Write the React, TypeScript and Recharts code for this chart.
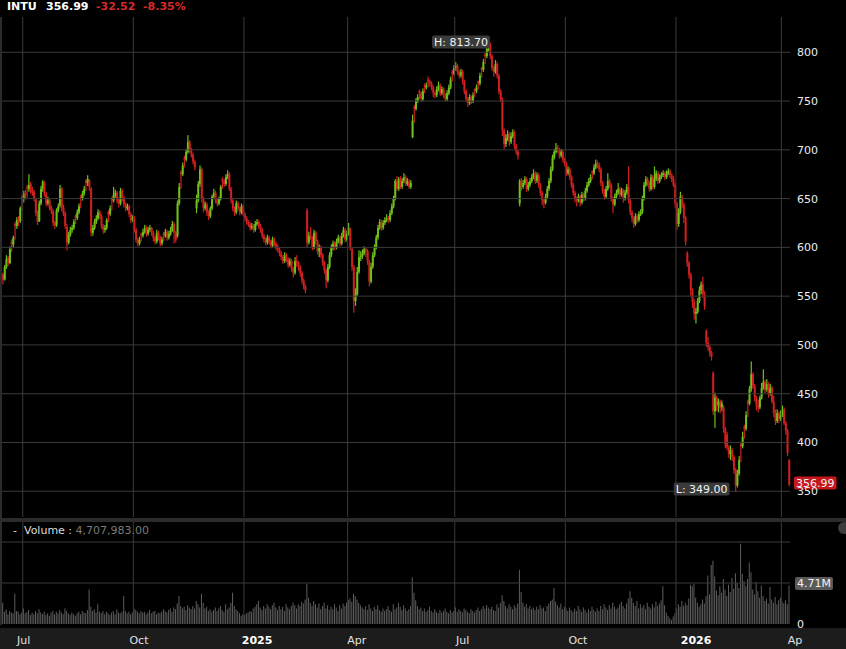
import React from 'react'
import { ComposedChart, Bar, XAxis, YAxis, ReferenceLine, ReferenceDot } from 'recharts'

// daily candles [open, high, low, close]
const p2024a = [
  [572, 574, 562, 567], [567, 582, 566, 580], [580, 592, 578, 588], [589, 591, 581, 584], [584, 601, 583, 598],
  [606, 608, 595, 603], [603, 612, 600, 610], [624, 626, 608, 622], [622, 631, 619, 628], [629, 632, 622, 626],
  [627, 642, 625, 640], [652, 654, 638, 650], [650, 658, 646, 655], [656, 659, 649, 653], [662, 664, 651, 660],
  [660, 675, 657, 664], [665, 667, 655, 658], [659, 662, 653, 656], [657, 659, 647, 650], [649, 651, 632, 635],
  [636, 638, 623, 626], [627, 648, 626, 645], [645, 663, 643, 660], [660, 669, 657, 667], [666, 668, 652, 655],
  [655, 657, 642, 645], [645, 652, 643, 648], [648, 650, 638, 640], [641, 643, 634, 637], [637, 639, 622, 625],
  [625, 627, 619, 622], [623, 640, 621, 638], [638, 645, 636, 642], [643, 664, 641, 660], [660, 662, 637, 640],
  [641, 644, 632, 635], [635, 637, 619, 622], [621, 624, 597, 605], [605, 616, 603, 613], [613, 621, 611, 618],
  [618, 623, 615, 620], [620, 629, 618, 626], [632, 634, 624, 630], [630, 639, 628, 636], [636, 645, 634, 642],
  [652, 654, 640, 650], [650, 658, 648, 655], [655, 663, 653, 660], [668, 670, 658, 666], [666, 674, 663, 670],
  [668, 670, 658, 662], [660, 662, 611, 615], [615, 623, 612, 620], [620, 629, 618, 626], [626, 633, 624, 630],
  [630, 639, 628, 636], [636, 638, 629, 632], [632, 634, 619, 622], [622, 624, 614, 618], [618, 623, 615, 620],
  [620, 630, 618, 628], [636, 638, 626, 634], [634, 643, 632, 640], [650, 652, 638, 648], [648, 662, 646, 654],
  [654, 659, 651, 656], [656, 658, 645, 648], [648, 651, 641, 645], [645, 661, 643, 658], [658, 660, 647, 650],
  [650, 653, 641, 644], [644, 646, 637, 640], [640, 645, 638, 642], [642, 644, 631, 634], [634, 636, 625, 628],
  [628, 633, 626, 630],
]
const p2024b = [
  [630, 632, 615, 618], [618, 620, 605, 608], [608, 610, 601, 604], [604, 611, 602, 608], [614, 615, 606, 612],
  [612, 619, 610, 616], [616, 623, 614, 620], [620, 622, 611, 614], [614, 621, 612, 618], [618, 623, 616, 620],
  [620, 621, 612, 615], [615, 617, 606, 610], [610, 612, 603, 606], [606, 618, 604, 615], [615, 617, 607, 610],
  [610, 612, 601, 604], [604, 611, 602, 608], [614, 616, 606, 612], [612, 619, 610, 616], [616, 618, 607, 610],
  [610, 617, 608, 614], [614, 621, 612, 618], [618, 627, 616, 624], [624, 626, 604, 615], [615, 617, 605, 608],
  [612, 648, 610, 645], [645, 666, 643, 662], [677, 679, 660, 675], [675, 687, 673, 684], [692, 694, 682, 690],
  [690, 701, 688, 698], [698, 715, 696, 708], [708, 710, 697, 700], [700, 702, 692, 695], [695, 697, 685, 688],
  [688, 690, 679, 682], [640, 654, 635, 648], [648, 668, 646, 665], [665, 684, 662, 680], [680, 682, 646, 650],
  [650, 652, 636, 640], [640, 647, 638, 644], [644, 646, 632, 636], [636, 638, 628, 632], [632, 642, 630, 640],
  [640, 654, 638, 652], [652, 660, 650, 656], [656, 658, 645, 648], [648, 650, 642, 645], [645, 652, 643, 650],
  [650, 664, 648, 662], [670, 672, 660, 668], [668, 670, 662, 665], [665, 675, 663, 672], [672, 679, 670, 675],
  [675, 677, 658, 660], [660, 662, 645, 648], [648, 650, 637, 640], [640, 642, 632, 636], [636, 648, 634, 645],
  [645, 647, 638, 640], [640, 642, 633, 636], [636, 645, 634, 642], [642, 644, 632, 634],
]
const p2025a = [
  [634, 636, 627, 630], [630, 632, 623, 626], [626, 628, 621, 624], [624, 626, 617, 620], [620, 625, 618, 622],
  [622, 624, 615, 618], [618, 627, 616, 624], [624, 629, 622, 626], [626, 628, 619, 622], [622, 624, 615, 618],
  [618, 620, 609, 612], [612, 614, 605, 608], [608, 610, 602, 605], [605, 613, 603, 610], [610, 612, 603, 606],
  [606, 608, 599, 602], [602, 611, 600, 608], [608, 610, 601, 604], [604, 606, 597, 600], [600, 603, 595, 598],
  [598, 600, 591, 594], [594, 596, 587, 590], [590, 592, 583, 586], [586, 595, 584, 592], [592, 594, 585, 588],
  [588, 590, 579, 582], [582, 589, 580, 586], [586, 588, 575, 578], [578, 580, 569, 574], [574, 590, 572, 586],
  [586, 592, 580, 584], [584, 586, 576, 580], [580, 582, 570, 574], [574, 576, 563, 566], [566, 568, 557, 560],
  [560, 562, 553, 556], [638, 640, 600, 605], [605, 616, 603, 612], [612, 621, 608, 610], [610, 612, 597, 600],
  [600, 618, 598, 615], [615, 617, 603, 606], [606, 608, 593, 596], [596, 603, 590, 600], [600, 602, 589, 592],
  [592, 594, 581, 584], [584, 586, 573, 576], [576, 578, 558, 566], [566, 583, 564, 580], [580, 595, 578, 592],
  [592, 603, 590, 600], [600, 607, 597, 604], [604, 606, 597, 600], [600, 609, 598, 606], [606, 613, 604, 610],
  [610, 612, 601, 604], [604, 615, 602, 612], [612, 621, 610, 618], [618, 620, 605, 608], [608, 617, 606, 614],
]
const p2025b = [
  [614, 625, 612, 620], [618, 620, 597, 600], [598, 600, 576, 580], [580, 582, 533, 545], [545, 558, 540, 552],
  [552, 580, 550, 575], [575, 597, 573, 590], [590, 596, 586, 591], [591, 598, 588, 594], [594, 601, 592, 598],
  [598, 600, 590, 596], [596, 598, 582, 585], [585, 587, 560, 565], [565, 584, 563, 580], [580, 595, 578, 592],
  [592, 603, 590, 600], [600, 613, 598, 610], [610, 623, 608, 620], [620, 629, 618, 626], [626, 628, 617, 620],
  [620, 628, 618, 625], [625, 631, 623, 628], [628, 634, 626, 630], [630, 632, 625, 628], [628, 638, 626, 635],
  [635, 645, 633, 642], [642, 653, 640, 650], [650, 670, 648, 668], [668, 673, 658, 660], [660, 672, 658, 670],
  [670, 673, 660, 662], [662, 671, 660, 668], [668, 676, 666, 672], [672, 674, 663, 665], [665, 671, 663, 668],
  [668, 670, 660, 662], [662, 669, 660, 666], [713, 736, 712, 730], [744, 746, 728, 742], [742, 753, 740, 750],
  [750, 757, 748, 754], [760, 762, 752, 758], [758, 760, 749, 752], [752, 763, 750, 760], [766, 768, 758, 764],
  [764, 769, 762, 766], [772, 775, 764, 770], [770, 772, 765, 768], [768, 770, 761, 764], [764, 766, 754, 758],
  [758, 760, 753, 756], [756, 765, 754, 762], [762, 770, 760, 766], [766, 768, 755, 758], [758, 765, 756, 762],
  [762, 764, 753, 756], [756, 758, 750, 752], [752, 761, 750, 758], [758, 767, 756, 764], [764, 775, 762, 772],
  [780, 782, 770, 778], [778, 787, 776, 784],
]
const p2025c = [
  [784, 790, 781, 786], [786, 788, 777, 780], [780, 782, 773, 776], [776, 783, 774, 780], [780, 782, 767, 770],
  [770, 772, 757, 760], [760, 762, 749, 752], [752, 754, 744, 748], [748, 757, 746, 754], [754, 756, 747, 750],
  [750, 759, 748, 756], [762, 763, 754, 760], [760, 767, 758, 764], [770, 771, 762, 768], [768, 779, 766, 776],
  [784, 785, 774, 782], [782, 793, 780, 790], [798, 800, 788, 796], [796, 807, 794, 804], [804, 813.7, 801, 808],
  [808, 810, 793, 796], [796, 798, 781, 784], [784, 786, 775, 780], [780, 792, 778, 788], [788, 790, 773, 776],
  [776, 778, 757, 760], [760, 762, 749, 752], [752, 754, 714, 720], [720, 722, 701, 706], [706, 716, 703, 712],
  [712, 720, 709, 716], [716, 718, 704, 708], [708, 718, 706, 714], [714, 721, 712, 718], [718, 720, 701, 704],
  [704, 706, 695, 698], [698, 700, 690, 694], [645, 670, 642, 668], [668, 671, 658, 662], [662, 669, 660, 666],
  [666, 673, 664, 670], [670, 672, 657, 660], [660, 667, 658, 664], [664, 671, 662, 668], [668, 675, 666, 672],
  [672, 680, 670, 676], [676, 678, 665, 668], [668, 677, 666, 674], [674, 676, 661, 664], [664, 666, 653, 656],
  [656, 658, 643, 648], [648, 650, 640, 646], [646, 655, 644, 652], [652, 663, 650, 660], [660, 671, 658, 668],
  [668, 683, 666, 680], [680, 695, 678, 692], [692, 701, 690, 698], [698, 707, 696, 702], [702, 705, 697, 700],
  [700, 702, 691, 694], [694, 701, 692, 698], [698, 700, 687, 690], [690, 692, 683, 686],
]
const p2025d = [
  [686, 688, 673, 676], [676, 683, 674, 680], [680, 682, 669, 672], [672, 674, 661, 664], [664, 666, 653, 656],
  [656, 658, 646, 650], [650, 652, 642, 648], [648, 655, 646, 652], [652, 654, 642, 646], [646, 657, 644, 654],
  [654, 656, 647, 650], [650, 661, 648, 658], [658, 667, 656, 664], [664, 671, 662, 668], [668, 675, 666, 672],
  [678, 679, 670, 676], [676, 685, 674, 682], [682, 690, 680, 686], [686, 689, 681, 684], [684, 687, 677, 680],
  [680, 682, 663, 666], [666, 668, 655, 658], [658, 660, 649, 652], [652, 663, 650, 660], [660, 676, 658, 668],
  [668, 670, 661, 664], [664, 666, 647, 650], [650, 652, 635, 644], [644, 655, 642, 652], [652, 659, 650, 656],
  [656, 666, 654, 660], [660, 662, 651, 654], [654, 661, 652, 658], [658, 660, 646, 650], [650, 659, 648, 656],
  [656, 665, 654, 662], [662, 683, 645, 648], [648, 650, 633, 636], [636, 638, 626, 630], [630, 632, 620, 624],
  [624, 635, 622, 632], [632, 634, 625, 628], [628, 637, 626, 634], [634, 639, 632, 636], [636, 653, 634, 650],
  [650, 667, 648, 664], [664, 673, 662, 670], [670, 672, 663, 666], [666, 668, 657, 660], [660, 675, 658, 672],
  [672, 674, 659, 662], [662, 683, 660, 670], [670, 679, 668, 676], [676, 678, 665, 668], [668, 675, 666, 672],
  [672, 677, 670, 674], [674, 679, 672, 676], [676, 678, 669, 672], [672, 679, 670, 676], [676, 681, 674, 678],
  [678, 680, 671, 674], [674, 676, 667, 670], [670, 673, 662, 664], [664, 666, 640, 645],
]
const p2026a = [
  [645, 647, 618, 624], [624, 640, 621, 636], [636, 657, 634, 652], [652, 654, 640, 644], [644, 646, 625, 630],
  [630, 632, 602, 606], [594, 596, 580, 584], [584, 586, 568, 572], [572, 574, 550, 556], [556, 558, 538, 544],
  [544, 547, 526, 532], [532, 538, 522, 534], [534, 548, 532, 545], [545, 560, 543, 556], [556, 565, 552, 562],
  [562, 570, 548, 552], [552, 555, 536, 540], [514, 516, 498, 502], [502, 508, 494, 498], [498, 500, 488, 492],
  [492, 494, 484, 488], [471, 473, 428, 432], [432, 451, 415, 446], [446, 448, 432, 438], [438, 445, 431, 442],
  [442, 444, 430, 436], [436, 443, 432, 440], [436, 438, 410, 414], [414, 416, 394, 398], [408, 411, 392, 395],
  [395, 397, 384, 388], [388, 397, 382, 392], [392, 394, 381, 385], [385, 387, 368, 372], [372, 374, 349, 356],
  [356, 372, 354, 368], [368, 386, 366, 382], [398, 400, 380, 396], [396, 411, 394, 406], [416, 418, 404, 414],
  [414, 432, 412, 428], [442, 444, 426, 440], [440, 458, 438, 455], [455, 483, 452, 470], [470, 472, 455, 458],
  [458, 460, 442, 446], [446, 448, 433, 438], [438, 444, 431, 436], [436, 448, 434, 446], [446, 461, 444, 456],
  [456, 475, 454, 462], [462, 464, 450, 454], [454, 465, 452, 460], [460, 462, 446, 450], [450, 460, 448, 456],
  [456, 458, 440, 442], [442, 448, 426, 430], [430, 434, 418, 422], [422, 434, 420, 430], [430, 432, 420, 424],
  [424, 433, 422, 428], [428, 438, 426, 434], [434, 436, 418, 420], [420, 422, 408, 412], [412, 414, 386, 389.51],
  [382, 383, 355, 356.99],
]

// daily volume, millions of shares
const vol2024 = [
  2.6, 1.5, 1.8, 1.2, 1.6, 1.4, 1.3, 3.7, 1.6, 1.5, 1.2, 1.4, 1.9, 1.3, 1.5, 1.7, 1.1, 1.4, 1.2, 1.6,
  1.3, 1.8, 1.4, 1.2, 1.5, 1.1, 1.3, 1.0, 1.4, 1.6, 1.2, 1.5, 1.3, 1.7, 1.4, 1.2, 1.9, 1.6, 1.3, 1.1,
  1.4, 1.2, 1.0, 1.3, 1.5, 1.2, 1.6, 1.4, 1.3, 1.7, 4.2, 2.1, 1.6, 1.8, 1.4, 2.4, 1.5, 1.3, 1.6, 1.2,
  1.5, 1.3, 1.1, 1.4, 1.6, 1.2, 1.8, 1.4, 1.3, 1.5, 3.4, 1.6, 1.3, 1.5, 1.2, 1.4, 1.9, 1.7, 1.5, 1.3,
  1.6, 1.4, 1.5, 1.2, 1.4, 1.7, 1.3, 1.5, 1.6, 1.2, 1.4, 1.3, 1.5, 1.8, 1.6, 1.4, 1.7, 1.9, 1.5, 2.0,
  1.8, 2.5, 3.4, 2.2, 1.9, 2.1, 1.7, 2.3, 2.0, 1.8, 2.2, 1.9, 2.8, 2.4, 2.0, 3.7, 2.6, 1.9, 2.1, 1.6,
  1.8, 1.5, 1.7, 2.0, 1.6, 1.9, 2.2, 1.7, 1.5, 2.4, 1.8, 2.0, 2.6, 3.8, 2.2, 1.8, 1.6, 1.3, 1.0, 1.2,
]
const vol2025 = [
  1.1, 1.3, 1.4, 1.6, 1.5, 1.9, 2.1, 2.4, 2.8, 2.0, 1.7, 2.2, 1.9, 2.4, 2.1, 1.8, 2.3, 2.6, 2.0, 1.7,
  2.2, 1.8, 2.1, 1.6, 2.4, 2.0, 1.8, 2.2, 2.6, 2.3, 1.9, 2.4, 2.2, 2.7, 2.5, 3.0, 4.9, 3.2, 2.6, 2.2,
  2.8, 2.4, 2.0, 2.5, 1.8, 2.2, 2.6, 1.9, 2.3, 1.7, 2.1, 1.8, 2.4, 2.0, 1.6, 2.3, 1.9, 2.5, 2.2, 2.6,
  2.9, 3.1, 2.7, 3.7, 3.4, 3.0, 2.6, 2.3, 2.0, 1.8, 2.2, 1.7, 2.4, 1.9, 1.6, 2.1, 1.8, 2.3, 1.7, 1.5,
  1.9, 1.6, 1.8, 2.2, 1.7, 1.5, 2.4, 1.8, 2.0, 2.6, 2.1, 1.7, 2.3, 1.9, 1.6, 1.8, 2.2, 5.7, 3.8, 2.9,
  2.2, 1.8, 2.0, 1.6, 1.9, 1.5, 1.7, 2.1, 1.6, 1.4, 1.8, 1.5, 1.3, 1.7, 1.4, 1.6, 1.9, 1.5, 1.3, 1.7,
  1.4, 1.6, 2.0, 1.5, 1.8, 1.6, 1.4, 1.9, 1.7, 1.5, 1.3, 1.8, 1.6, 1.4, 1.7, 2.0, 1.6, 1.8, 2.2, 1.9,
  2.3, 2.0, 1.8, 2.1, 1.7, 1.6, 2.4, 2.0, 2.6, 3.5, 2.8, 2.2, 1.9, 2.4, 2.1, 1.8, 2.3, 2.0, 2.5, 6.6,
  3.9, 2.6, 2.1, 2.4, 1.9, 2.2, 1.8, 2.0, 1.7, 2.1, 1.8, 2.3, 1.9, 2.0, 1.6, 2.2, 2.5, 2.8, 3.0, 4.4,
  2.7, 2.3, 2.0, 2.5, 1.8, 2.1, 1.9, 1.6, 2.0, 1.7, 1.5, 1.9, 1.6, 2.2, 1.8, 1.5, 2.0, 1.7, 1.4, 1.8,
  1.6, 2.1, 1.7, 1.5, 1.9, 1.6, 2.2, 1.8, 2.4, 2.0, 1.7, 2.3, 1.9, 2.6, 2.1, 1.8, 2.0, 2.4, 2.7, 2.2,
  1.9, 2.5, 3.1, 4.0, 3.2, 2.6, 2.2, 2.8, 1.9, 2.4, 2.0, 2.3, 1.8, 2.6, 2.1, 1.9, 2.4, 2.0, 2.7, 2.2,
  2.5, 2.9, 4.6, 2.3, 1.4, 1.0, 0.7, 0.5, 0.9, 1.3,
]
const vol2026 = [
  1.9, 2.4, 2.1, 2.8, 2.2, 2.6, 2.3, 3.1, 4.8, 4.6, 4.9, 3.2, 2.6, 2.1, 2.4, 3.0, 2.5, 3.4, 5.9, 3.6,
  7.2, 7.7, 5.8, 4.1, 3.5, 4.6, 3.8, 5.5, 4.2, 3.4, 4.8, 3.9, 5.6, 4.3, 6.2, 5.0, 4.4, 9.8, 6.1, 5.2,
  4.6, 5.5, 7.5, 6.3, 4.2, 3.6, 5.1, 4.0, 3.2, 4.7, 3.4, 2.8, 3.1, 2.5, 4.5, 3.0, 2.6, 3.3, 2.4, 2.9,
  3.2, 2.7, 2.5, 2.9, 2.4, 4.707983,
]

const monthStarts = [12, 76, 140, 200, 262, 326, 390, 451]
const monthLabels = ['Jul', 'Oct', '2025', 'Apr', 'Jul', 'Oct', '2026', 'Apr']
const priceTicks = [350, 400, 450, 500, 550, 600, 650, 700, 750, 800]
const volumeLines = [5, 10]

const FONT = '"DejaVu Sans", Verdana, sans-serif'
const UP = '#6fc01a'
const DOWN = '#d01f1f'
const GRID = '#3a3a3a'

const candles = [p2024a, p2024b, p2025a, p2025b, p2025c, p2025d, p2026a].flat()
const volumes = [...vol2024, ...vol2025, ...vol2026]
const rows = candles.map(([o, h, l, c], i) => ({ i, o, h, l, c, v: volumes[i] }))

const last = rows.length - 1
const lastClose = rows[last].c
const prevClose = rows[last - 1].c
const change = lastClose - prevClose
let hiIdx = 0
let loIdx = 0
rows.forEach((r, i) => {
  if (r.h > rows[hiIdx].h) hiIdx = i
  if (r.l < rows[loIdx].l) loIdx = i
})

const CH: Record<string, number> = { '.': 0.318, ',': 0.318, ':': 0.337, ' ': 0.318, H: 0.752, L: 0.557, M: 0.863 }
const textW = (s: string) => [...s].reduce((a, ch) => a + (CH[ch] ?? 0.636), 0) * 11

function Tag({ x, y, text, bg }: { x: number; y: number; text: string; bg: string }) {
  const w = textW(text) + 4
  return (
    <g>
      <rect x={x} y={y - 6.5} width={w} height={13} rx={2} fill={bg} />
      <text x={x + 2} y={y} dy="0.36em" fontSize={11} fill="#f2f2f2" fontFamily={FONT}>
        {text}
      </text>
    </g>
  )
}

const center = (p: any) => {
  const vb = p.viewBox || {}
  return { cx: vb.x + (vb.width || 0) / 2, cy: vb.y + (vb.height || 0) / 2 }
}

function Candle(props: any) {
  const { x, y, width, height, payload } = props
  const { o, h, l, c } = payload
  const top = Math.min(y, y + height)
  const k = Math.abs(height) / (h - l || 1)
  const yO = top + (h - o) * k
  const yC = top + (h - c) * k
  const color = c >= o ? UP : DOWN
  const mid = x + width / 2
  const bw = Math.max(width, 1.7)
  return (
    <g>
      <rect x={mid - 0.6} y={top} width={1.2} height={Math.max(Math.abs(height), 1)} fill={color} />
      <rect x={mid - bw / 2} y={Math.min(yO, yC)} width={bw} height={Math.max(Math.abs(yC - yO), 1)} fill={color} />
    </g>
  )
}

const AxisText = (p: any) => (
  <text x={797} y={p.y} dy="0.36em" fontSize={11} fill="#e8ecf2" fontFamily={FONT}>
    {p.payload.value}
  </text>
)

const MonthTick = (p: any) => {
  const k = monthStarts.indexOf(p.payload.value)
  const label = monthLabels[k] ?? ''
  const isYear = /^\d{4}$/.test(label)
  const lx = 18 + (p.x - 24.5) * 1.016
  return (
    <g>
      <clipPath id={`xclip${k}`}>
        <rect x={0} y={0} width={803} height={140} />
      </clipPath>
      <text
        x={lx}
        y={118}
        dy="0.36em"
        fontSize={11}
        fontWeight={isYear ? 'bold' : 'normal'}
        fill={isYear ? '#ffffff' : '#e2e2e2'}
        fontFamily={FONT}
        clipPath={`url(#xclip${k})`}
      >
        {label}
      </text>
    </g>
  )
}

export default function App() {
  const hiText = `H: ${rows[hiIdx].h.toFixed(2)}`
  const loText = `L: ${rows[loIdx].l.toFixed(2)}`
  const volText = (volumes[last] * 1e6).toLocaleString('en-US', { minimumFractionDigits: 2, maximumFractionDigits: 2 })
  return (
    <div style={{ position: 'fixed', left: 0, top: 0, width: 846, height: 649, background: '#000', overflow: 'hidden', fontFamily: FONT }}>
      {/* x axis strip */}
      <div style={{ position: 'absolute', left: 0, top: 628, width: 846, height: 21, background: '#1c1c1c' }} />
      {/* panel separator and left border */}
      <div style={{ position: 'absolute', left: 0, top: 518, width: 846, height: 4, background: '#2b2b2b' }} />
      <div style={{ position: 'absolute', left: 0, top: 17, width: 2, height: 608, background: '#2b2b2b' }} />
      <div style={{ position: 'absolute', left: 838, top: 522, width: 12, height: 12, borderRadius: 6, background: '#3c3c3c' }} />

      <div style={{ position: 'absolute', left: 0, top: 0 }}>
        <ComposedChart width={846} height={518} data={rows} margin={{ top: 15, right: 0, bottom: 1, left: 2 }} barCategoryGap={0} barGap={0}>
          <XAxis dataKey="i" hide />
          <YAxis
            orientation="right"
            width={56}
            domain={[323.6, 838.2]}
            ticks={priceTicks}
            allowDataOverflow
            axisLine={false}
            tickLine={false}
            tick={AxisText}
          />
          {priceTicks.map((t) => (
            <ReferenceLine key={`p${t}`} y={t} stroke={GRID} />
          ))}
          {monthStarts.map((m) => (
            <ReferenceLine key={m} x={m} stroke={GRID} position="start" />
          ))}
          <Bar dataKey={(d: any) => [d.l, d.h]} shape={<Candle />} isAnimationActive={false} />
          <ReferenceDot
            x={hiIdx}
            y={rows[hiIdx].h}
            r={1}
            fill="none"
            stroke="none"
            label={(p: any) => {
              const { cx, cy } = center(p)
              return <Tag x={cx + 1.5 - (textW(hiText) + 4)} y={cy + 3.2} text={hiText} bg="#3a3a3a" />
            }}
          />
          <ReferenceDot
            x={loIdx}
            y={rows[loIdx].l}
            r={1}
            fill="none"
            stroke="none"
            label={(p: any) => {
              const { cx, cy } = center(p)
              return <Tag x={cx - 6 - (textW(loText) + 4)} y={cy - 3.3} text={loText} bg="#3a3a3a" />
            }}
          />
          <ReferenceDot
            x={last}
            y={lastClose}
            r={1}
            fill="none"
            stroke="none"
            label={(p: any) => {
              const { cy } = center(p)
              return <Tag x={794} y={cy - 1.5} text={lastClose.toFixed(2)} bg="#c8161d" />
            }}
          />
        </ComposedChart>
      </div>

      <div style={{ position: 'absolute', left: 0, top: 522 }}>
        <ComposedChart width={846} height={127} data={rows} margin={{ top: 0, right: 0, bottom: 0, left: 2 }} barCategoryGap="12%">
          <XAxis dataKey="i" ticks={monthStarts} interval={0} height={25} axisLine={false} tickLine={false} tick={MonthTick} />
          <YAxis
            orientation="right"
            width={56}
            domain={[0, 12.44]}
            ticks={[0]}
            allowDataOverflow
            axisLine={false}
            tickLine={false}
            tick={AxisText}
          />
          {volumeLines.map((t) => (
            <ReferenceLine key={`v${t}`} y={t} stroke={GRID} />
          ))}
          {monthStarts.map((m) => (
            <ReferenceLine key={m} x={m} stroke={GRID} position="start" />
          ))}
          <Bar dataKey="v" fill="#5e5e5e" isAnimationActive={false} />
          <ReferenceDot
            x={last}
            y={volumes[last]}
            r={1}
            fill="none"
            stroke="none"
            label={(p: any) => {
              const { cy } = center(p)
              return <Tag x={795} y={cy - 2} text={`${volumes[last].toFixed(2)}M`} bg="#5a5a5a" />
            }}
          />
        </ComposedChart>
      </div>

      {/* black band above the price plot */}
      <div style={{ position: 'absolute', left: 0, top: 0, width: 846, height: 17, background: '#000' }} />

      {/* header */}
      <div style={{ position: 'absolute', top: 0, left: 0, width: 846, height: 14, fontSize: 11, fontWeight: 'bold', lineHeight: '14px' }}>
        <span style={{ position: 'absolute', left: 7, color: '#ffffff' }}>INTU</span>
        <span style={{ position: 'absolute', left: 46, color: '#ffffff' }}>{lastClose.toFixed(2)}</span>
        <span style={{ position: 'absolute', left: 96, color: '#d42a2a' }}>{change.toFixed(2)}</span>
        <span style={{ position: 'absolute', left: 143, color: '#d42a2a' }}>{((change / prevClose) * 100).toFixed(2)}%</span>
      </div>

      {/* volume legend */}
      <div style={{ position: 'absolute', top: 524, left: 13, fontSize: 11, lineHeight: '14px', whiteSpace: 'nowrap' }}>
        <span style={{ color: '#dcdcdc' }}>-&nbsp; Volume :</span>
        <span style={{ color: '#7a7a7a' }}> {volText}</span>
      </div>
    </div>
  )
}
